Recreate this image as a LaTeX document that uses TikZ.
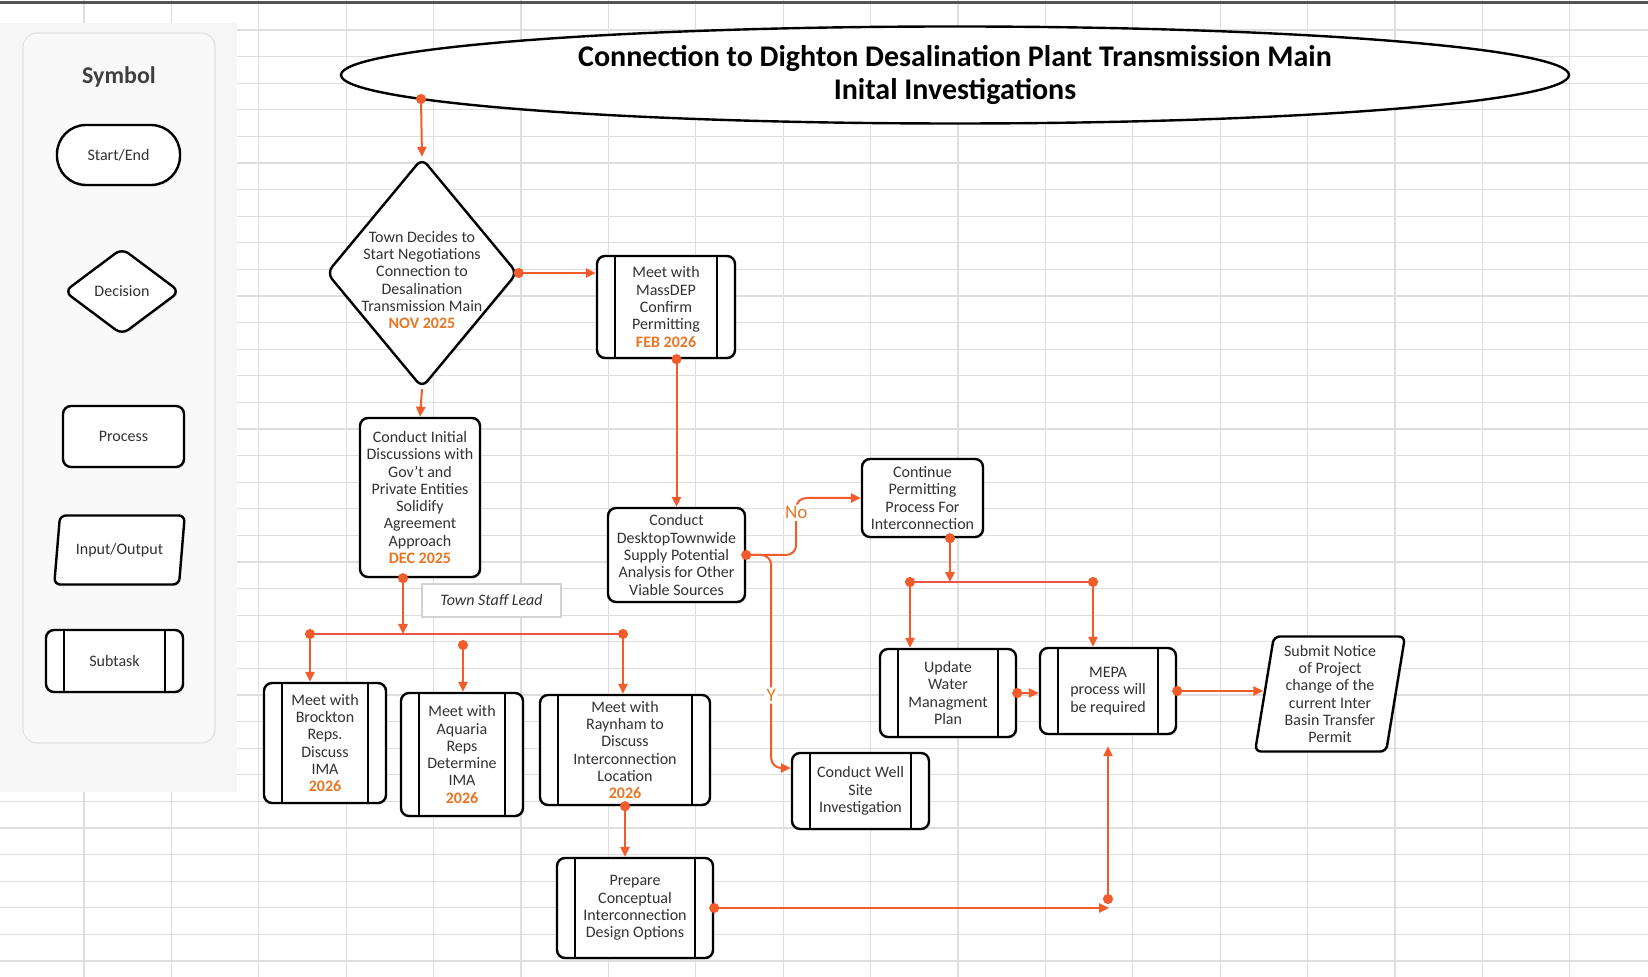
\documentclass[tikz,border=0pt]{standalone}
\usepackage{fontspec}
\setmainfont{Carlito}
\usepackage{xcolor}
\usepackage{tikz}
\usetikzlibrary{calc, shapes.geometric, shapes.misc, arrows.meta, positioning, shadows}

\definecolor{linkred}{RGB}{242,92,42}
\definecolor{busred}{RGB}{236,84,72}
\definecolor{dateorange}{RGB}{232,118,36}
\definecolor{bodygray}{RGB}{50,50,50}
\definecolor{gridgray}{RGB}{222,222,222}
\definecolor{legendbg}{RGB}{246,246,246}
\definecolor{panelfill}{RGB}{249,249,249}
\definecolor{panelline}{RGB}{226,226,226}
\definecolor{topline}{RGB}{85,85,85}

\newcommand{\datetag}[1]{{\bfseries\color{dateorange}#1}}

\begin{document}
\begin{tikzpicture}[
        x=0.5pt, y=-0.5pt,
        every node/.style={font=\fontsize{8}{8.65}\selectfont, text=bodygray, align=center},
        boxshadow/.style={drop shadow={opacity=0.12, shadow xshift=0.8pt, shadow yshift=-0.9pt}},
        procbox/.style={draw=black, line width=1.2pt, fill=white, rounded corners=4pt, inner sep=1pt, boxshadow},
        subbox/.style={procbox, path picture={
            \draw[line width=1.2pt]
              ([xshift=9pt]path picture bounding box.north west) -- ([xshift=9pt]path picture bounding box.south west)
              ([xshift=-9pt]path picture bounding box.north east) -- ([xshift=-9pt]path picture bounding box.south east);}},
        startbox/.style={procbox, rounded corners=14.5pt},
        decbox/.style={diamond, draw=black, line width=1.2pt, fill=white, rounded corners=4pt, inner sep=0pt, boxshadow},
        iobox/.style={trapezium, trapezium stretches=true, draw=black, line width=1.2pt, fill=white,
                      rounded corners=3pt, inner sep=1pt, boxshadow},
        titlebox/.style={ellipse, draw=black, line width=1.2pt, fill=white, inner sep=0pt,
                         font=\fontsize{15}{16.5}\selectfont\bfseries, text=black},
        notebox/.style={draw=gray!35, line width=0.6pt, fill=white, inner sep=1pt,
                        font=\fontsize{8}{8.65}\selectfont\itshape},
        choice/.style={fill=white, inner sep=1pt, text=dateorange, font=\fontsize{9.5}{10}\selectfont},
        dotarrow/.style={draw=linkred, line width=1pt,
                         {Circle[length=5pt]}-{Triangle[length=5pt,width=4.6pt]}, shorten <=-2.5pt},
        plainarrow/.style={draw=linkred, line width=1pt, -{Triangle[length=5pt,width=4.6pt]}},
        busline/.style={draw=busred, line width=0.7pt},
        gridline/.style={draw=gridgray, line width=0.6pt}
]

%--- sheet background and grid -------------------------------
\useasboundingbox (0,0) rectangle (1648,977);
\fill[white] (0,0) rectangle (1648,977);
\foreach \gx in {0,...,17}
  \draw[gridline] ({84+87.4*\gx},0) -- ({84+87.4*\gx},977);
\foreach \gy in {0,...,35}
  \draw[gridline] (0,{30+26.6*\gy}) -- (1648,{30+26.6*\gy});
\draw[topline, line width=1.5pt] (0,3) -- (1648,3);

%--- legend --------------------------------------------------
\fill[legendbg] (0,23) rectangle (237,792);
\draw[panelline, fill=panelfill, line width=0.6pt, rounded corners=7pt] (23,33) rectangle (215,743);
\node[font=\fontsize{12}{14}\selectfont\bfseries, text=black!75] (symhead) at (119,77) {Symbol};
\node[startbox, minimum width=61.5pt, minimum height=30pt] (lgstart) at (118.5,155) {Start/End};
\node[decbox, minimum width=58pt, minimum height=43.5pt] (lgdec) at (122,291.5) {};
\node (lgdectext) at (lgdec) {Decision};
\node[procbox, minimum width=60.5pt, minimum height=30.5pt] (lgproc) at (123.5,436.5) {Process};
\node[iobox, trapezium left angle=76, trapezium right angle=104,
      minimum width=65.5pt, minimum height=34.5pt] (lgio) at (119.5,550) {Input/Output};
\node[subbox, minimum width=68.5pt, minimum height=31pt] (lgsub) at (114.5,661) {Subtask};

%--- title ---------------------------------------------------
\node[titlebox, minimum width=614pt, minimum height=48.5pt] (title) at (955,75)
     {Connection to Dighton Desalination Plant Transmission Main\\Inital Investigations};

%--- process nodes -------------------------------------------
\node[decbox, minimum width=95.5pt, minimum height=115pt] (decide) at (422,273) {};
\node (decidetext) at ([yshift=-3.5pt]decide.center)
     {Town Decides to\\Start Negotiations\\Connection to\\Desalination\\Transmission Main\\\datetag{NOV 2025}};
\node[subbox, minimum width=69pt, minimum height=51pt] (massdep) at (666,307)
     {Meet with\\MassDEP\\Confirm\\Permitting\\\datetag{FEB 2026}};
\node[procbox, minimum width=60pt, minimum height=79.5pt] (initial) at (420,497.5)
     {Conduct Initial\\Discussions with\\Gov’t and\\Private Entities\\Solidify\\Agreement\\Approach\\\datetag{DEC 2025}};
\node[procbox, minimum width=68.5pt, minimum height=47pt] (desktop) at (676.5,555)
     {Conduct\\DesktopTownwide\\Supply Potential\\Analysis for Other\\Viable Sources};
\node[procbox, minimum width=60.5pt, minimum height=39pt] (permit) at (922.5,498)
     {Continue\\Permitting\\Process For\\Interconnection};
\node[subbox, minimum width=68pt, minimum height=44pt] (wmp) at (948,693)
     {Update\\Water\\Managment\\Plan};
\node[subbox, minimum width=68pt, minimum height=43pt] (mepa) at (1108,691)
     {MEPA\\process will\\be required};
\node[iobox, trapezium left angle=81, trapezium right angle=99,
      minimum width=75.5pt, minimum height=57.5pt] (ibt) at (1330,694)
     {Submit Notice\\of Project\\change of the\\current Inter\\Basin Transfer\\Permit};
\node[subbox, minimum width=68.5pt, minimum height=38pt] (wellsite) at (860.5,791)
     {Conduct Well\\Site\\Investigation};
\node[subbox, minimum width=61pt, minimum height=60pt] (brockton) at (325,743)
     {Meet with\\Brockton\\Reps.\\Discuss\\IMA\\\datetag{2026}};
\node[subbox, minimum width=61pt, minimum height=61.5pt] (aquaria) at (462,754.5)
     {Meet with\\Aquaria\\Reps\\Determine\\IMA\\\datetag{2026}};
\node[subbox, minimum width=85pt, minimum height=55pt] (raynham) at (625,750)
     {Meet with\\Raynham to\\Discuss\\Interconnection\\Location\\\datetag{2026}};
\node[subbox, minimum width=78pt, minimum height=50pt] (design) at (635,908)
     {Prepare\\Conceptual\\Interconnection\\Design Options};
\node[notebox, minimum width=69.5pt, minimum height=16.5pt] (stafflead) at (491.5,600.5) {Town Staff Lead};

%--- connectors: top part ------------------------------------
\coordinate (titlefoot) at (421,99);
\draw[dotarrow] (titlefoot) -- (decide.north);
\draw[dotarrow] (decide.east) -- (decide.east -| massdep.west);
\draw[plainarrow] (decide.south) -- (initial.north);
\draw[dotarrow] (massdep.south -| desktop.north) -- (desktop.north);

%--- desktop study: No / Y -----------------------------------
\draw[dotarrow, rounded corners=5pt] (desktop.east) -- ++(50,0) |- (permit.west)
      node[choice, pos=0.37] (nolabel) {No};
\draw[plainarrow, rounded corners=5pt] (desktop.east) -- ++(25,0) |- ([yshift=11.5pt]wellsite.west)
      node[choice, pos=0.33] (ylabel) {Y};

%--- right bus -----------------------------------------------
\coordinate (rbusL) at (910,582);
\coordinate (rbusR) at (1093,582);
\coordinate (permitfoot) at ([xshift=13.75pt]permit.south);
\draw[busline] (rbusL) -- (rbusR);
\draw[dotarrow] (permitfoot) -- (permitfoot |- rbusL);
\draw[dotarrow] (rbusL) -- (rbusL |- wmp.north);
\draw[dotarrow] (rbusR) -- (rbusR |- mepa.north);
\draw[dotarrow] (wmp.east) -- (wmp.east -| mepa.west);
\draw[dotarrow] (mepa.east) -- (mepa.east -| ibt.west);

%--- left bus ------------------------------------------------
\coordinate (lbusL) at (310,634);
\coordinate (lbusR) at (623,634);
\coordinate (lbusM) at (463,645);
\coordinate (initfoot) at ([xshift=-8.5pt]initial.south);
\draw[busline] (lbusL) -- (lbusR);
\draw[dotarrow] (initfoot) -- (initfoot |- lbusL);
\draw[dotarrow] (lbusL) -- (lbusL |- brockton.north);
\draw[dotarrow] (lbusM) -- (lbusM |- aquaria.north);
\draw[dotarrow] (lbusR) -- (lbusR |- raynham.north);
\draw[dotarrow] (raynham.south) -- (raynham.south |- design.north);

%--- design options to MEPA ----------------------------------
\coordinate (designend) at (1109,911);
\coordinate (mepafoot) at (1108,899);
\draw[dotarrow] (design.east) -- (design.east -| designend);
\draw[dotarrow, shorten >=5.5pt] (mepafoot) -- (mepafoot |- mepa.south);

\end{tikzpicture}
\end{document}
